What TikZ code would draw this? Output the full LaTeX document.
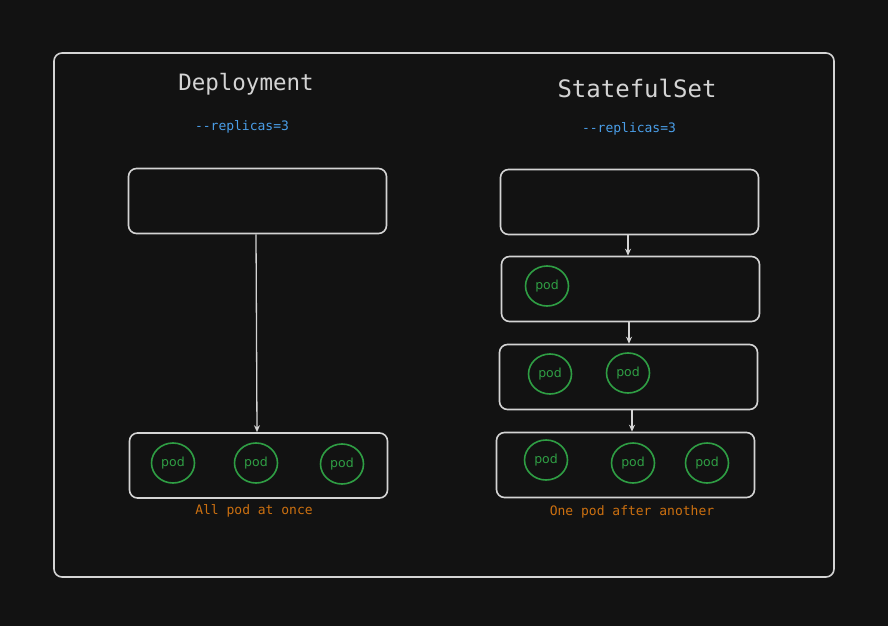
\documentclass[tikz,border=0pt]{standalone}
\usepackage{fontspec}
\setmainfont{DejaVu Sans}
\newfontfamily\monofont{DejaVu Sans Mono}
\usetikzlibrary{arrows.meta,shapes.geometric}

\definecolor{bgdark}{RGB}{18,18,18}
\definecolor{strokegray}{RGB}{212,212,212}
\definecolor{replblue}{RGB}{74,158,232}
\definecolor{noteorange}{RGB}{204,112,16}
\definecolor{podgreen}{RGB}{47,158,68}

\begin{document}
\begin{tikzpicture}[x=1pt,y=1pt,yscale=-1,
  frame/.style={draw=strokegray,line width=1.6pt,rounded corners=8pt},
  setbox/.style={draw=strokegray,line width=1.6pt,rounded corners=8pt,minimum width=258pt,minimum height=65pt,inner sep=0pt},
  pod/.style={draw=podgreen,line width=1.6pt,ellipse,minimum width=43pt,minimum height=40pt,inner sep=0pt,text=podgreen,font=\fontsize{12.5}{14}\selectfont},
  title/.style={text=strokegray,font=\monofont\fontsize{22.5}{26}\selectfont,inner sep=0pt},
  repl/.style={text=replblue,font=\monofont\fontsize{13}{15}\selectfont,inner sep=0pt},
  note/.style={text=noteorange,font=\monofont\fontsize{13}{15}\selectfont,inner sep=0pt},
  flow/.style={draw=strokegray,line width=1.3pt,-{Stealth[length=7pt,width=6pt]}}]
%background and size
\fill [bgdark] (0,0) rectangle (888,626);
\useasboundingbox (0,0) rectangle (888,626);

%Outer frame
\draw [frame] (54,53) rectangle (834,577);

% Deployment side
\node (deptitle) [title] at (246,84) {Deployment};
\node (deprepl) [repl] at (242,127) {--replicas=3};
\node (depbox) [setbox] at (257.5,201) {};
\node (depall) [setbox] at (258.5,465.5) {};
\node (podA) [pod] at (173,463) {pod};
\node (podB) [pod] at (256,463) {pod};
\node (podC) [pod] at (342,464) {pod};
\node (depnote) [note] at (254,511) {All pod at once};
%Straight Lines
\draw [flow] (depbox.south -| 256,0) -- (depall.north -| 257,0);

% StatefulSet side
\node (ststitle) [title,font=\monofont\fontsize{24}{28}\selectfont] at (637,88) {StatefulSet};
\node (stsrepl) [repl] at (629,129) {--replicas=3};
\node (stsbox) [setbox] at (629.5,202) {};
\node (stsone) [setbox] at (630.5,289) {};
\node (podD) [pod] at (547,286) {pod};
\node (ststwo) [setbox] at (628.5,377) {};
\node (podE) [pod] at (550,374) {pod};
\node (podF) [pod] at (628,373) {pod};
\node (ststhree) [setbox] at (625.5,465) {};
\node (podG) [pod] at (546,460) {pod};
\node (podH) [pod] at (633,463) {pod};
\node (podI) [pod] at (707,463) {pod};
\node (stsnote) [note] at (632,512) {One pod after another};
%Straight Lines
\draw [flow] (stsbox.south -| 628,0) -- (stsone.north -| 628,0);
\draw [flow] (stsone.south -| 629,0) -- (ststwo.north -| 629,0);
\draw [flow] (ststwo.south -| 632,0) -- (ststhree.north -| 632,0);

\end{tikzpicture}
\end{document}
